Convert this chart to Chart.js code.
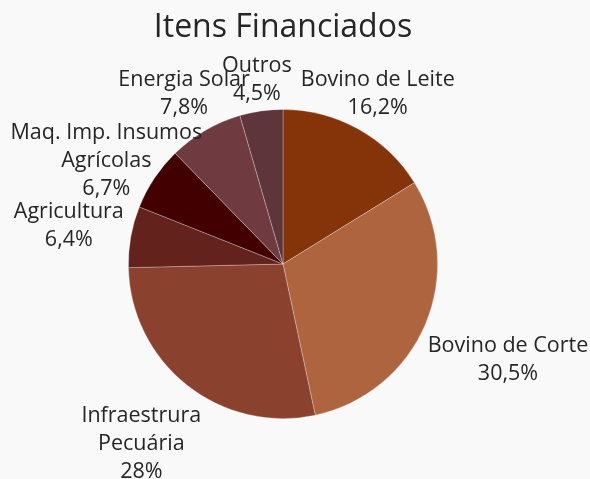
<!DOCTYPE html>
<html>
<head>
<meta charset="utf-8">
<script src="https://cdn.jsdelivr.net/npm/chart.js@4.4.0/dist/chart.umd.min.js"></script>
<style>
  html, body { margin: 0; padding: 0; background: #f9f9f9; }
  #wrap { width: 590px; height: 479px; }
</style>
</head>
<body>
<div id="wrap"><canvas id="c" width="590" height="479"></canvas></div>
<script>
// categories and shares (%)
const labels = [
  ['Bovino de Leite'],
  ['Bovino de Corte'],
  ['Infraestrura', 'Pecuária'],
  ['Agricultura'],
  ['Maq. Imp. Insumos', 'Agrícolas'],
  ['Energia Solar'],
  ['Outros'],
];
const shares = [16.2, 30.5, 28, 6.4, 6.7, 7.8, 4.5];
const shareText = ['16,2%', '30,5%', '28%', '6,4%', '6,7%', '7,8%', '4,5%'];
const colors = ['#85340a', '#ae653f', '#8a412d', '#63221b', '#420000', '#6f3a40', '#5e353a'];

// how far each label sits outside the pie edge
const labelPad = [40, 90, 74, 63, 50, 42, 31];

const FONT = "'Open Sans', 'Noto Sans', sans-serif";

const outsideLabels = {
  id: 'outsideLabels',
  afterDatasetsDraw(chart) {
    const ctx = chart.ctx;
    const arcs = chart.getDatasetMeta(0).data;
    ctx.save();
    ctx.font = '21.5px ' + FONT;
    ctx.fillStyle = '#262626';
    ctx.textAlign = 'center';
    ctx.textBaseline = 'middle';
    arcs.forEach((arc, i) => {
      // Maq. label sits a little lower than its slice centre in the original
      const mid = (arc.startAngle + arc.endAngle) / 2 - (i === 4 ? 0.06 : 0);
      const d = arc.outerRadius + labelPad[i];
      const x = arc.x + Math.cos(mid) * d;
      const y = arc.y + Math.sin(mid) * d;
      const lines = [...labels[i], shareText[i]];
      const lh = 28;
      const top = y - (lines.length - 1) * lh / 2;
      lines.forEach((t, j) => ctx.fillText(t, x, top + j * lh));
    });
    ctx.restore();
  }
};

const titlePlugin = {
  id: 'titleText',
  afterDraw(chart) {
    const ctx = chart.ctx;
    ctx.save();
    ctx.font = '32px ' + FONT;
    ctx.fillStyle = '#262626';
    ctx.textAlign = 'center';
    ctx.textBaseline = 'middle';
    ctx.fillText('Itens Financiados', 283, 28);
    ctx.restore();
  }
};

new Chart(document.getElementById('c'), {
  type: 'pie',
  data: {
    labels: labels.map(l => l.join(' ')),
    datasets: [{
      data: shares,
      backgroundColor: colors,
      borderColor: 'rgba(255,255,255,0.35)',
      borderWidth: 0.8,
    }],
  },
  options: {
    responsive: false,
    animation: false,
    layout: { padding: { left: 128, right: 152, top: 109, bottom: 60 } },
    plugins: {
      legend: { display: false },
      tooltip: { enabled: false },
      title: { display: false },
    },
  },
  plugins: [outsideLabels, titlePlugin],
});
</script>
</body>
</html>
